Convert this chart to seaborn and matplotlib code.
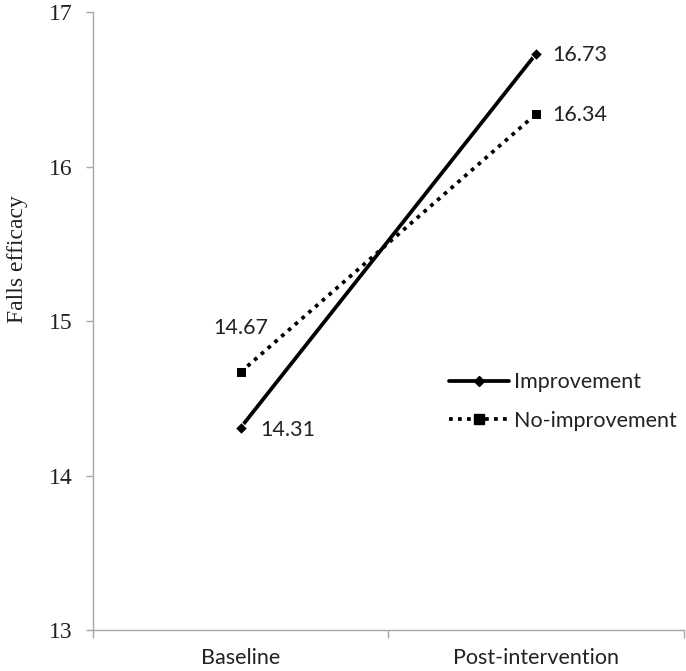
import pandas as pd
import numpy as np
import matplotlib
matplotlib.use("Agg")
import matplotlib.pyplot as plt
import seaborn as sns
from matplotlib.lines import Line2D

# Data
timepoints = ["Baseline", "Post-intervention"]
improvement = [14.31, 16.73]
no_improvement = [14.67, 16.34]

sns.set_theme(style="white")
plt.rcParams['font.family'] = ['Lato', 'DejaVu Sans']

df = pd.DataFrame({
    'pos': [0, 1, 0, 1],
    'score': improvement + no_improvement,
    'group': ['Improvement'] * 2 + ['No-improvement'] * 2,
})

fig = plt.figure(figsize=(6.86, 6.71), dpi=100)
ax = fig.add_axes([0.1356, 0.061, 0.861, 0.921])

LW = 2.7
DOTS = (1, 1.4)
sns.lineplot(data=df, x='pos', y='score', hue='group', style='group',
             palette={'Improvement': 'black', 'No-improvement': 'black'},
             dashes={'Improvement': '', 'No-improvement': DOTS},
             markers={'Improvement': 'D', 'No-improvement': 's'},
             ax=ax, linewidth=LW, legend=False)
for line, ms in zip(ax.lines, [6, 7]):
    line.set_markersize(ms)

# Value labels
FS = 15.5
ax.annotate(f"{improvement[1]:.2f}", (1, improvement[1]), xytext=(12, -1),
            textcoords='offset points', va='center', ha='left', fontsize=FS, color='#222222')
ax.annotate(f"{no_improvement[1]:.2f}", (1, no_improvement[1]), xytext=(12, -1),
            textcoords='offset points', va='center', ha='left', fontsize=FS, color='#222222')
ax.annotate(f"{no_improvement[0]:.2f}", (0, no_improvement[0]), xytext=(0, 32),
            textcoords='offset points', va='center', ha='center', fontsize=FS, color='#222222')
ax.annotate(f"{improvement[0]:.2f}", (0, improvement[0]), xytext=(14, -2),
            textcoords='offset points', va='center', ha='left', fontsize=FS, color='#222222')

# Legend
handles = [Line2D([], [], color='black', lw=LW, marker='D', ms=5),
           Line2D([], [], color='black', lw=LW, ls=(0, DOTS), marker='s', ms=7)]
leg = ax.legend(handles, ['Improvement', 'No-improvement'], frameon=False,
                loc='center left', bbox_to_anchor=(0.602, 0.37), fontsize=FS,
                borderpad=0, borderaxespad=0,
                handlelength=2.8, handletextpad=0.25, labelspacing=0.85)
for t in leg.get_texts():
    t.set_color('#222222')

# Axes styling, Excel-like category axis
ax.set_xlim(-0.5, 1.5)
ax.set_ylim(13, 17)
ax.set_yticks([13, 14, 15, 16, 17])
ax.set_yticklabels(['13', '14', '15', '16', '17'], family='Liberation Serif',
                   fontsize=17, color='#222222')
ax.set_xticks([-0.5, 0.5, 1.5])
ax.set_xticklabels([])
ax.set_xticks([0, 1], minor=True)
ax.set_xticklabels(timepoints, minor=True, fontsize=FS, color='#222222')
ax.tick_params(axis='x', which='minor', length=0, pad=13)
ax.tick_params(axis='x', which='major', length=5.5, width=1, color='#a6a6a6', direction='out', bottom=True)
ax.tick_params(axis='y', length=5, width=1, color='#a6a6a6', direction='out', left=True, pad=9.5)
ax.set_xlabel('')
ax.set_ylabel('Falls efficacy', family='Liberation Serif', fontsize=17, color='#222222')
ax.yaxis.set_label_coords(-0.11, 0.60)

for side in ['top', 'right']:
    ax.spines[side].set_visible(False)
for side in ['left', 'bottom']:
    ax.spines[side].set_color('#a6a6a6')
    ax.spines[side].set_linewidth(1)

fig.savefig('out.png', dpi=100)
